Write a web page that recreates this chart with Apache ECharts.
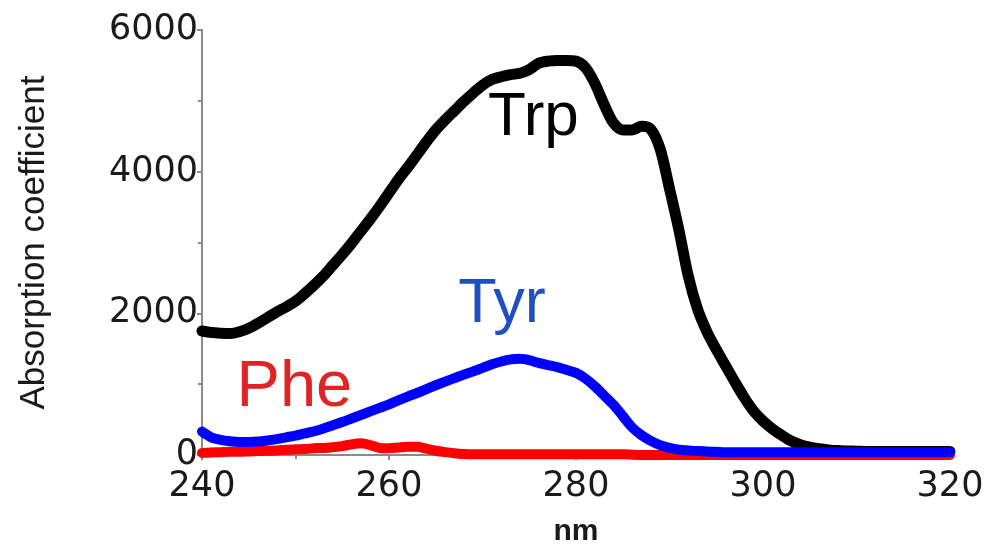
<!DOCTYPE html>
<html>
<head>
<meta charset="utf-8">
<script src="https://cdn.jsdelivr.net/npm/echarts@6/dist/echarts.min.js"></script>
<style>
  html, body { margin: 0; padding: 0; background: #fff; }
  #chart { width: 995px; height: 556px; }
</style>
</head>
<body>
<div id="chart"></div>
<script>
// wavelength (nm), 1 nm steps
var wavelengths = [240,241,242,243,244,245,246,247,248,249,250,251,252,253,254,255,256,257,258,259,
  260,261,262,263,264,265,266,267,268,269,270,271,272,273,274,275,276,277,278,279,
  280,281,282,283,284,285,286,287,288,289,290,291,292,293,294,295,296,297,298,299,
  300,301,302,303,304,305,306,307,308,309,310,311,312,313,314,315,316,317,318,319,320];

var trpValues = [1750,1730,1720,1715,1740,1790,1860,1940,2020,2090,2170,2280,2400,2530,2680,2830,2990,3160,3330,3510,
  3700,3890,4060,4240,4420,4590,4730,4860,4990,5110,5220,5300,5340,5370,5390,5440,5530,5560,5570,5570,
  5560,5470,5250,4950,4690,4590,4590,4640,4600,4320,3760,3180,2530,2060,1740,1490,1260,1030,810,620,
  480,370,280,200,145,110,88,72,62,57,53,50,50,50,50,50,50,50,50,50,50];

var tyrValues = [330,250,215,195,185,185,190,205,225,250,275,305,335,375,420,465,515,565,615,665,
  715,770,825,875,930,985,1035,1085,1135,1180,1230,1280,1320,1350,1360,1340,1300,1270,1240,1200,
  1160,1080,970,840,710,550,390,280,200,140,100,75,65,55,50,45,40,40,40,40,
  40,40,40,40,40,40,40,40,40,40,40,40,40,40,40,40,40,40,40,40,40];

var pheValues = [30,35,40,45,45,50,55,60,65,75,80,85,95,100,110,125,150,165,140,100,
  95,105,115,115,90,60,40,25,15,10,10,10,10,10,10,10,10,10,10,10,
  10,10,10,10,10,10,5,0,0,0,0,0,0,0,0,0,0,0,0,0,
  0,0,0,0,0,0,0,0,0,0,0,0,0,0,0,0,0,0,0,0,0];

// annotation labels: [text, nm, value, colour, font size]
var curveLabels = [
  ['Trp', 270.6, 4760, '#000000', 62],
  ['Tyr', 267.4, 2120, '#1f4fc0', 63],
  ['Phe', 243.7, 950, '#e02424', 65]
];

function pairs(vals) {
  return wavelengths.map(function (w, i) { return [w, vals[i]]; });
}

var chart = echarts.init(document.getElementById('chart'));

var tickFont = { fontFamily: 'DejaVu Sans', fontSize: 35, color: '#1a1a1a' };
var greyLine = { color: '#8a8a8a', width: 2 };

chart.setOption({
  animation: false,
  backgroundColor: '#ffffff',
  grid: { left: 202, right: 45, top: 30, bottom: 101 },
  xAxis: {
    type: 'value',
    min: 240, max: 320, interval: 20,
    name: 'nm',
    nameLocation: 'middle',
    nameGap: 62,
    nameTextStyle: { fontFamily: 'Liberation Sans', fontSize: 30, fontWeight: 'bold', color: '#1a1a1a' },
    axisLine: { lineStyle: greyLine },
    axisTick: { length: 5, lineStyle: greyLine },
    minorTick: { show: true, splitNumber: 2, length: 4, lineStyle: greyLine },
    axisLabel: Object.assign({ margin: 14 }, tickFont),
    splitLine: { show: false }
  },
  yAxis: {
    type: 'value',
    min: 0, max: 6000, interval: 2000,
    name: 'Absorption coefficient',
    nameLocation: 'middle',
    nameGap: 150,
    nameTextStyle: { fontFamily: 'Liberation Sans', fontSize: 35, color: '#1a1a1a' },
    axisLine: { show: true, lineStyle: greyLine },
    axisTick: { show: true, length: 5, lineStyle: greyLine },
    minorTick: { show: true, splitNumber: 2, length: 4, lineStyle: greyLine },
    axisLabel: Object.assign({ margin: 4, formatter: function (v) { return String(v); } }, tickFont),
    splitLine: { show: false }
  },
  series: [
    {
      name: 'Phe', type: 'line', data: pairs(pheValues), showSymbol: false, smooth: 0.3, z: 2,
      lineStyle: { color: '#ff0000', width: 10, join: 'round', cap: 'round' }
    },
    {
      name: 'Trp', type: 'line', data: pairs(trpValues), showSymbol: false, smooth: 0.3, z: 3,
      lineStyle: { color: '#000000', width: 11, join: 'round', cap: 'round' }
    },
    {
      name: 'Tyr', type: 'line', data: pairs(tyrValues), showSymbol: false, smooth: 0.3, z: 4,
      lineStyle: { color: '#0000ff', width: 10, join: 'round', cap: 'round' }
    }
  ]
});

// place curve names at data positions
var texts = curveLabels.map(function (l) {
  var p = chart.convertToPixel({ gridIndex: 0 }, [l[1], l[2]]);
  return {
    type: 'text', x: p[0], y: p[1], z: 10,
    style: { text: l[0], fill: l[3], font: l[4] + 'px "Liberation Sans"', verticalAlign: 'middle', align: 'left' }
  };
});
chart.setOption({ graphic: texts });
</script>
</body>
</html>
